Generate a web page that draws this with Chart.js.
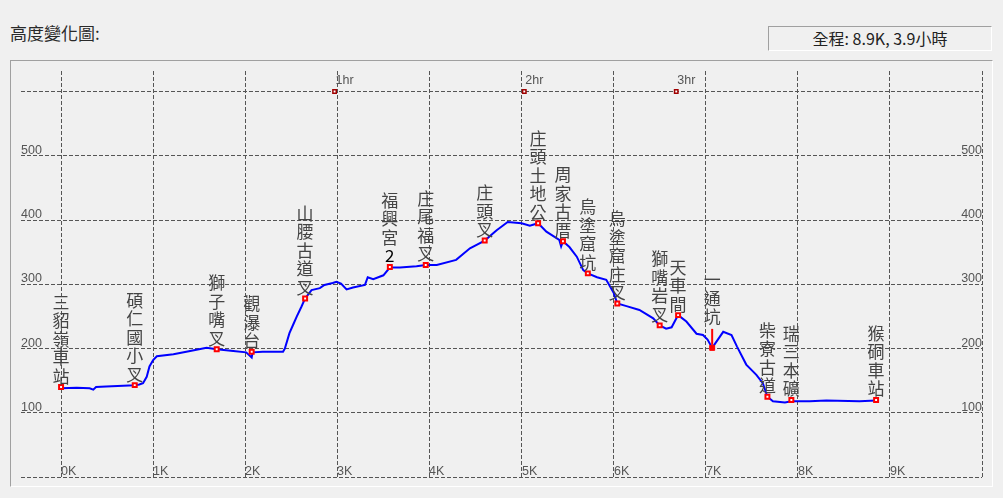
<!DOCTYPE html>
<html>
<head>
<meta charset="utf-8">
<script src="https://cdn.jsdelivr.net/npm/chart.js@4.4.0/dist/chart.umd.min.js"></script>
<style>
  body { margin: 0; background: #f0f0f0; width: 1003px; height: 498px; overflow: hidden; position: relative; font-family: "Noto Sans CJK TC", sans-serif; }
  #title { position: absolute; left: 10px; top: 20px; font-size: 17px; color: #2a2a2a; }
  #summary { position: absolute; left: 768px; top: 26px; width: 222px; height: 23px; border-top: 1px solid #a0a0a0; border-left: 1px solid #a0a0a0; border-right: 1px solid #fff; border-bottom: 1px solid #fff; text-align: center; line-height: 23px; font-size: 16px; color: #222; }
  #frame { position: absolute; left: 10px; top: 60px; width: 981px; height: 425px; border-top: 1px solid #a0a0a0; border-left: 1px solid #a0a0a0; border-right: 1px solid #fff; border-bottom: 1px solid #fff; }
  #chart { position: absolute; left: 0; top: 0; }
</style>
</head>
<body>
<div id="title">高度變化圖:</div>
<div id="summary">全程: 8.9K, 3.9小時</div>
<div id="frame"></div>
<canvas id="chart" width="1003" height="498"></canvas>
<script>
// elevation profile (km, metres)
var profileKm = [0, 0.17, 0.31, 0.35, 0.38, 0.49, 0.80, 0.85, 0.89, 0.93, 0.96, 1.00, 1.04, 1.22, 1.36, 1.58, 1.69, 1.87, 2.01, 2.07, 2.08, 2.19, 2.41, 2.43, 2.48, 2.52, 2.56, 2.61, 2.65, 2.72, 2.81, 2.86, 2.95, 2.99, 3.04, 3.10, 3.17, 3.30, 3.33, 3.39, 3.50, 3.57, 3.68, 3.86, 3.96, 4.08, 4.29, 4.44, 4.60, 4.73, 4.85, 5.00, 5.09, 5.18, 5.27, 5.41, 5.43, 5.45, 5.52, 5.60, 5.67, 5.72, 5.82, 5.92, 6.00, 6.04, 6.14, 6.28, 6.43, 6.50, 6.57, 6.63, 6.70, 6.79, 6.90, 6.97, 7.02, 7.07, 7.19, 7.28, 7.34, 7.44, 7.55, 7.62, 7.67, 7.73, 7.86, 7.93, 8.13, 8.31, 8.67, 8.85];
var profileElev = [138, 139, 138, 136, 140, 141, 143, 144, 146, 156, 172, 182, 188, 191, 195, 201, 199, 196, 194, 186, 194, 195, 195, 200, 224, 237, 250, 265, 278, 291, 294, 299, 302, 304, 301, 292, 295, 299, 311, 308, 314, 326, 326, 328, 330, 330, 338, 356, 368, 384, 397, 395, 391, 395, 382, 369, 359, 367, 358, 343, 322, 317, 311, 307, 287, 270, 266, 260, 247, 236, 231, 233, 252, 242, 223, 221, 214, 201, 226, 221, 203, 175, 159, 146, 125, 118, 116, 118, 118, 119, 118, 119];

// waypoints
var wpNames = ['三貂嶺車站', '碩仁國小叉', '獅子嘴叉', '觀瀑台', '山腰古道叉', '福興宮2', '庄尾福叉', '庄頭叉', '庄頭土地公', '周家古厝', '烏塗窟坑', '烏塗窟庄叉', '獅嘴岩叉', '天車間', '一通坑', '柴寮古道', '瑞三本礦', '猴硐車站'];
var wpKm = [0, 0.80, 1.69, 2.07, 2.65, 3.57, 3.96, 4.60, 5.18, 5.45, 5.72, 6.04, 6.50, 6.70, 7.07, 7.67, 7.93, 8.85];
var wpElev = [140, 143, 199, 195, 278, 327, 330, 368, 395, 367, 317, 270, 236, 252, 201, 125, 120, 120];
var wpMarked = '一通坑';

// hour marks along the top line
var hourKm = [2.97, 5.03, 6.68];
var hourLabels = ['1hr', '2hr', '3hr'];
var hourElev = 600;

// axes
var xTicks = [0, 1, 2, 3, 4, 5, 6, 7, 8, 9, 10];
var xLabels = ['0K', '1K', '2K', '3K', '4K', '5K', '6K', '7K', '8K', '9K'];
var yTicks = [0, 100, 200, 300, 400, 500, 600];
var yLabels = [100, 200, 300, 400, 500];

function pts(xs, ys) {
  return xs.map(function(x, i) { return { x: x, y: ys[i] }; });
}

var labelPlugin = {
  id: 'profileLabels',
  afterDatasetsDraw: function(chart) {
    var ctx = chart.ctx;
    var xs = chart.scales.x, ys = chart.scales.y, area = chart.chartArea;
    ctx.save();
    ctx.fillStyle = '#555';
    ctx.font = '12.5px "Liberation Sans"';
    ctx.textBaseline = 'alphabetic';
    yLabels.forEach(function(v) {
      var y = ys.getPixelForValue(v) - 2;
      ctx.textAlign = 'left';
      ctx.fillText(String(v), area.left, y);
      ctx.textAlign = 'right';
      ctx.fillText(String(v), area.right, y);
    });
    ctx.textAlign = 'left';
    xLabels.forEach(function(t, i) {
      ctx.fillText(t, Math.round(xs.getPixelForValue(xTicks[i])), area.bottom - 2);
    });
    hourLabels.forEach(function(t, i) {
      ctx.fillText(t, xs.getPixelForValue(hourKm[i]) + 1, ys.getPixelForValue(hourElev) - 8);
    });

    // waypoint names, one character per line
    ctx.font = '17px "Noto Sans CJK TC"';
    ctx.textAlign = 'center';
    ctx.textBaseline = 'middle';
    wpNames.forEach(function(name, i) {
      var px = xs.getPixelForValue(wpKm[i]);
      var py = ys.getPixelForValue(wpElev[i]);
      var chars = Array.from(name);
      var off = name === wpMarked ? 31 : 11;
      if (name === wpMarked) {
        ctx.strokeStyle = '#ff0000';
        ctx.lineWidth = 2;
        ctx.beginPath();
        ctx.moveTo(px, py - 19);
        ctx.lineTo(px, py - 3);
        ctx.stroke();
      }
      for (var k = chars.length - 1; k >= 0; k--) {
        var c = chars[k];
        ctx.fillStyle = /[0-9]/.test(c) ? '#000' : '#444';
        ctx.fillText(c, px, py - off - (chars.length - 1 - k) * 18.5);
      }
    });
    ctx.restore();
  }
};

var ctx = document.getElementById('chart').getContext('2d');
var chart = new Chart(ctx, {
  type: 'scatter',
  data: {
    datasets: [
      {
        label: 'waypoints',
        data: pts(wpKm, wpElev),
        pointStyle: 'rect',
        pointRadius: wpNames.map(function(n) { return n === wpMarked ? 3.5 : 2.8; }),
        pointBorderWidth: wpNames.map(function(n) { return n === wpMarked ? 1 : 2; }),
        pointBackgroundColor: wpNames.map(function(n) { return n === wpMarked ? '#ff0000' : '#ffffff'; }),
        pointBorderColor: '#ff0000',
        showLine: false
      },
      {
        label: 'hours',
        data: pts(hourKm, hourKm.map(function() { return hourElev; })),
        pointStyle: 'rect',
        pointRadius: 2.4,
        pointBorderWidth: 1.5,
        pointBackgroundColor: '#ffffff',
        pointBorderColor: '#a00000',
        showLine: false
      },
      {
        label: 'elevation',
        data: pts(profileKm, profileElev),
        showLine: true,
        borderColor: '#0000ff',
        borderWidth: 2,
        pointRadius: 0,
        tension: 0,
        fill: false
      }
    ]
  },
  options: {
    responsive: false,
    animation: false,
    events: [],
    layout: { padding: { left: 21, right: 21, top: 71, bottom: 21 } },
    plugins: { legend: { display: false }, tooltip: { enabled: false } },
    scales: {
      x: {
        type: 'linear',
        min: -0.435,
        max: 10,
        afterBuildTicks: function(s) { s.ticks = xTicks.map(function(v) { return { value: v }; }); },
        afterFit: function(s) { s.height = 0; },
        ticks: { display: false },
        grid: { color: '#555555', lineWidth: 1, drawTicks: false },
        border: { display: false, dash: [4, 2] }
      },
      y: {
        min: 0,
        max: 632,
        afterBuildTicks: function(s) { s.ticks = yTicks.map(function(v) { return { value: v }; }); },
        afterFit: function(s) { s.width = 0; },
        ticks: { display: false },
        grid: { color: '#555555', lineWidth: 1, drawTicks: false },
        border: { display: false, dash: [4, 2] }
      }
    }
  },
  plugins: [labelPlugin]
});
</script>
</body>
</html>
